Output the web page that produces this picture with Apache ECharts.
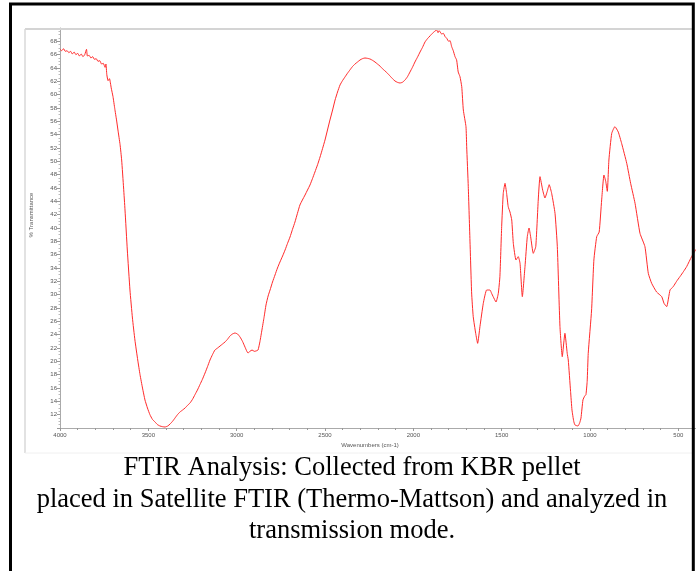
<!DOCTYPE html>
<html>
<head>
<meta charset="utf-8">
<script src="https://cdn.jsdelivr.net/npm/echarts@6/dist/echarts.min.js"></script>
<style>
html,body{margin:0;padding:0;background:#fff;}
#chart{width:696px;height:571px;}
</style>
</head>
<body>
<div id="chart"></div>
<script>
// Wavenumbers (cm-1), descending
var wavenumbers = [4000,3990,3980,3970,3960,3950,3940,3930,3920,3910,3900,3890,3880,3870,3860,3850,3845,3835,3825,3815,3805,3795,3785,3775,3765,3755,3745,3740,3735,3728,3720,3710,3700,3690,3680,3672,3660,3651,3640,3632,3619,3604,3590,3576,3560,3547,3533,3519,3505,3491,3477,3462,3448,3434,3420,3406,3390,3377,3363,3349,3335,3321,3306,3292,3278,3264,3250,3236,3222,3208,3194,3179,3165,3151,3137,3123,3108,3094,3080,3066,3052,3038,3024,3010,2995,2981,2967,2953,2944,2936,2925,2913,2900,2891,2879,2868,2857,2845,2834,2822,2811,2797,2783,2769,2755,2740,2726,2712,2698,2684,2670,2656,2642,2628,2613,2599,2585,2571,2557,2542,2528,2514,2500,2486,2472,2457,2443,2429,2415,2401,2387,2373,2359,2345,2330,2316,2302,2288,2274,2260,2245,2231,2217,2203,2189,2175,2160,2146,2132,2118,2104,2090,2076,2062,2047,2033,2019,2005,1991,1977,1962,1948,1934,1920,1906,1892,1877,1868,1860,1855,1849,1840,1830,1820,1811,1800,1792,1783,1774,1764,1755,1746,1736,1726,1717,1702,1698,1689,1679,1670,1661,1647,1636,1623,1604,1585,1566,1557,1548,1532,1519,1510,1500,1491,1481,1472,1463,1453,1443,1434,1419,1406,1396,1383,1368,1355,1345,1336,1321,1307,1293,1283,1268,1255,1242,1231,1217,1198,1185,1170,1157,1142,1129,1123,1110,1102,1092,1085,1068,1058,1051,1040,1030,1023,1016,1010,991,978,962,948,934,921,911,902,893,877,859,840,821,792,770,745,717,689,670,651,623,594,581,566,547,529,510,491,470,453,425,400];
// % Transmittance
var transmittance = [66.8,66.6,66.9,66.5,66.6,66.3,66.5,66.1,66.4,66.0,66.2,65.8,66.1,65.7,66.0,66.8,65.8,65.9,65.5,65.7,65.3,65.4,65.0,65.1,64.6,64.7,64.1,64.6,63.0,62.1,62.4,61.0,59.7,57.9,56.2,54.7,52.5,50.2,46.0,42.7,36.7,30.7,26.5,23.2,20.2,18.0,16.0,14.2,13.0,12.0,11.3,10.9,10.5,10.3,10.2,10.15,10.3,10.6,11.0,11.5,12.0,12.4,12.7,13.0,13.4,13.75,14.3,15.0,15.7,16.5,17.3,18.25,19.2,20.2,21.0,21.7,22.0,22.3,22.6,22.9,23.3,23.8,24.1,24.25,24.1,23.65,23.0,22.15,21.6,21.25,21.5,21.7,21.5,21.55,21.7,23.0,24.7,26.6,28.45,29.8,30.7,31.9,32.95,34.0,34.9,35.8,36.7,37.7,38.65,39.8,40.9,42.2,43.45,44.2,44.95,45.7,46.45,47.4,48.4,49.5,50.65,51.9,53.2,54.7,56.2,57.7,59.2,60.4,61.45,62.1,62.65,63.2,63.7,64.2,64.6,64.9,65.2,65.4,65.5,65.45,65.35,65.15,64.9,64.6,64.3,63.9,63.55,63.2,62.8,62.4,62.05,61.85,61.75,61.85,62.2,62.7,63.4,64.1,64.9,65.6,66.4,67.1,67.9,68.4,68.8,69.2,69.55,69.7,69.3,69.6,69.45,69.1,69.2,68.7,68.45,68.0,68.1,67.2,66.6,65.7,65.2,63.4,62.7,61.2,57.7,55.2,52.2,46.2,37.75,30.25,26.7,24.2,22.7,25.2,28.7,30.7,30.7,30.2,29.7,28.9,30.2,32.7,40.2,45.2,46.7,45.2,43.2,42.4,41.2,37.7,35.2,35.7,34.7,29.7,34.2,38.7,40.0,38.7,36.2,37.2,44.2,47.7,45.7,44.5,45.5,46.5,45.2,42.2,37.2,25.2,20.7,24.2,21.2,20.2,15.5,12.7,11.0,10.45,10.3,10.8,11.5,14.2,14.8,15.0,17.0,21.2,27.7,35.2,38.7,39.4,44.2,47.95,47.0,45.5,50.2,54.2,55.2,54.4,52.7,49.7,46.7,43.7,39.2,37.2,33.2,31.7,30.4,29.7,28.7,28.2,30.7,31.2,32.0,32.7,33.5,34.2,35.7,36.8];
var xMajorTicks = [500,1000,1500,2000,2500,3000,3500,4000];
var yAxisName = '% Transmittance';
var xAxisName = 'Wavenumbers (cm-1)';
var captionLines = [
  'FTIR Analysis: Collected from KBR pellet',
  'placed in Satellite FTIR (Thermo-Mattson) and analyzed in',
  'transmission mode.'
];

var seriesData = wavenumbers.map(function (w, i) { return [w, transmittance[i]]; });

var chart = echarts.init(document.getElementById('chart'), null, {renderer: 'canvas'});
var tickFont = {fontSize: 6, color: '#555', fontFamily: 'Liberation Sans, Arial, sans-serif'};
var capFont = {fontSize: 26.5, fill: '#000', fontFamily: 'Liberation Serif, Times New Roman, serif', align: 'center', verticalAlign: 'middle'};

var option = {
  animation: false,
  backgroundColor: '#fff',
  grid: {left: 60, right: 0, top: 28, bottom: 143, outerBoundsMode: 'none'},
  xAxis: [{
    type: 'value', min: 400, max: 4000, interval: 100, inverse: true,
    axisLine: {show: true, lineStyle: {color: '#aaa', width: 1}},
    axisTick: {show: true, length: 2, lineStyle: {color: '#999'}},
    axisLabel: Object.assign({
      margin: 4,
      formatter: function (v) { return (v % 500 === 0) ? String(v) : ''; }
    }, tickFont),
    splitLine: {show: false}
  }, {
    type: 'value', min: 400, max: 4000, inverse: true, position: 'bottom',
    axisLine: {show: false},
    axisTick: {show: true, length: 3, inside: false, customValues: xMajorTicks, lineStyle: {color: '#999'}},
    axisLabel: {show: false},
    splitLine: {show: false}
  }],
  yAxis: {
    type: 'value', min: 10, max: 70, interval: 2,
    axisLine: {show: true, lineStyle: {color: '#aaa', width: 1}},
    axisTick: {show: true, length: 3, lineStyle: {color: '#999'}},
    minorTick: {show: true, splitNumber: 4, length: 1.5, lineStyle: {color: '#bbb'}},
    axisLabel: Object.assign({margin: 3, showMinLabel: false, showMaxLabel: false}, tickFont),
    splitLine: {show: false}
  },
  series: [{
    type: 'line',
    data: seriesData,
    xAxisIndex: 0,
    showSymbol: false,
    smooth: 0.15,
    lineStyle: {color: '#ff2a2a', width: 1},
    z: 5
  }],
  graphic: [
    {type: 'line', z: 10, shape: {x1: 25, y1: 29, x2: 692, y2: 29}, style: {stroke: '#d4d4d4', lineWidth: 2}},
    {type: 'line', z: 10, shape: {x1: 25, y1: 29, x2: 25, y2: 453}, style: {stroke: '#d8d8d8', lineWidth: 1.5}},
    {type: 'line', z: 10, shape: {x1: 25, y1: 453, x2: 692, y2: 453}, style: {stroke: '#f0f0f0', lineWidth: 1}},
    {type: 'text', z: 10, x: 31, y: 215, rotation: Math.PI / 2,
      style: {text: yAxisName, fontSize: 6, fill: '#555', fontFamily: 'Liberation Sans, Arial, sans-serif', align: 'center', verticalAlign: 'middle'}},
    {type: 'text', z: 10, x: 370, y: 445,
      style: {text: xAxisName, fontSize: 6, fill: '#555', fontFamily: 'Liberation Sans, Arial, sans-serif', align: 'center', verticalAlign: 'middle'}},
    {type: 'text', z: 10, x: 352, y: 468, style: Object.assign({text: captionLines[0]}, capFont)},
    {type: 'text', z: 10, x: 352, y: 500, style: Object.assign({text: captionLines[1]}, capFont)},
    {type: 'text', z: 10, x: 352, y: 531, style: Object.assign({text: captionLines[2]}, capFont)},
    {type: 'rect', z: 20, shape: {x: 10.5, y: 4, width: 682.8, height: 700},
      style: {fill: null, stroke: '#000', lineWidth: 3}}
  ]
};
chart.setOption(option);
</script>
</body>
</html>
